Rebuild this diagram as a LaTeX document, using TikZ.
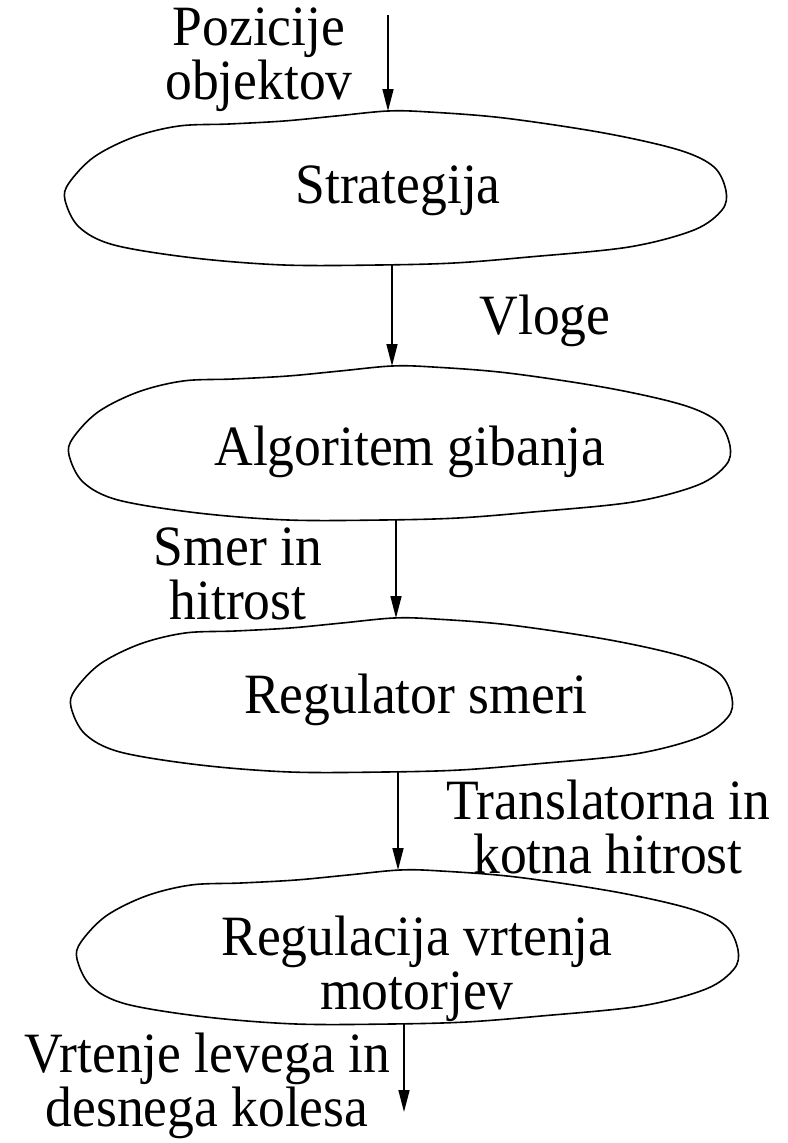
\documentclass[tikz,border=0pt]{standalone}
\usepackage{fontspec}
\setmainfont{Liberation Serif}[FakeStretch=0.94]
\usetikzlibrary{arrows.meta,positioning,calc}

\tikzset{
  pics/blob/.style={code={
    \draw[blobline] plot[smooth cycle, tension=0.55] coordinates {
      (-8,-77) (-60,-72) (-112,-67) (-167,-64) (-217,-62) (-262,-51) (-302,-31)
      (-327,-5) (-331,12) (-317,39) (-282,57) (-202,70) (-112,77) (-17,77)
      (58,75) (133,69) (233,59) (298,42) (326,22) (330,3) (318,-21)
      (283,-38) (208,-55) (108,-70) (33,-76)};
    \coordinate (-top) at (-8,-77);
    \coordinate (-bot) at (-4,77);
  }}
}

\begin{document}
\begin{tikzpicture}[
  x=1pt, y=-1pt,
  lbl/.style={align=center, inner sep=0pt, font=\fontsize{57}{54}\selectfont},
  blobline/.style={line width=1.6pt},
  arrow/.style={-{Triangle[length=22pt,width=11pt]}, line width=1.6pt}
]
\useasboundingbox (0,0) rectangle (787,1143);

\pic (stratb) at (396,188) {blob};
\pic (algob) at (400,443) {blob};
\pic (regsmerb) at (402,695) {blob};
\pic (regmotb) at (408,947) {blob};

\node[lbl] (strat) at (398,191) {Strategija};
\node[lbl] (algo) at (410,452) {Algoritem gibanja};
\node[lbl] (regsmer) at (416,700) {Regulator smeri};
\node[lbl] (regmot) at (417,969) {Regulacija vrtenja\\motorjev};

\node[lbl] (pozicije) at (259,60) {Pozicije\\objektov};
\node[lbl] (vloge) at (545,321) {Vloge};
\node[lbl] (smer) at (238,574) {Smer in\\hitrost};
\node[lbl] (transl) at (608,827) {Translatorna in\\kotna hitrost};
\node[lbl] (vrtenje) at (207,1086) {Vrtenje levega in\\desnega kolesa};

\coordinate (vhod) at (388,15);
\coordinate (izhod) at (404,1112);

\draw[arrow] (vhod) -- (stratb-top);
\draw[arrow] (stratb-bot) -- (stratb-bot |- algob-top);
\draw[arrow] (algob-bot) -- (algob-bot |- regsmerb-top);
\draw[arrow] (regsmerb-bot) -- (regsmerb-bot |- regmotb-top);
\draw[arrow] (regmotb-bot) -- (regmotb-bot |- izhod);
\end{tikzpicture}
\end{document}
